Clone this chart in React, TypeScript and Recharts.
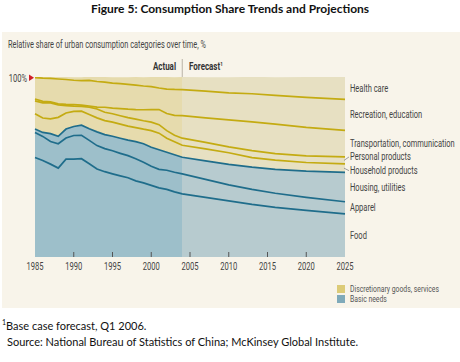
import React from 'react';
import { ComposedChart, Area, XAxis, YAxis, ReferenceLine } from 'recharts';

const years = [1985, 1986, 1987, 1988, 1989, 1990, 1991, 1992, 1993, 1994, 1995, 1996, 1997, 1998, 1999, 2000, 2001, 2002, 2003, 2004, 2007, 2010, 2013, 2016, 2020, 2025];

// shares of urban consumption, % (stacked bottom to top)
const food = [55.3, 53.6, 51.6, 49.4, 54.4, 54.4, 54.6, 51.8, 48.9, 47.4, 46.2, 45.1, 44.0, 42.3, 41.2, 39.8, 38.4, 37.6, 36.2, 35.1, 33.1, 31.2, 29.2, 27.6, 25.9, 24.0];
const apparel = [13.9, 13.4, 12.6, 13.5, 11.7, 13.1, 13.0, 13.0, 13.0, 12.8, 12.8, 12.5, 12.3, 12.3, 11.4, 10.6, 10.3, 10.6, 10.9, 11.1, 10.0, 8.9, 8.4, 7.8, 7.2, 6.7];
const housing = [1.9, 2.2, 4.3, 4.1, 5.0, 5.0, 5.6, 6.4, 7.6, 7.8, 8.1, 8.4, 8.6, 9.5, 10.3, 10.6, 10.9, 10.0, 9.7, 9.2, 10.3, 11.4, 12.3, 13.3, 14.6, 16.3];
const household = [8.5, 8.0, 8.2, 10.6, 8.9, 8.4, 7.8, 8.0, 7.8, 7.8, 7.8, 7.8, 7.8, 7.8, 8.1, 9.2, 9.2, 7.8, 7.2, 6.7, 6.7, 6.4, 5.3, 5.1, 4.8, 4.7];
const personal = [7.1, 8.4, 8.9, 6.9, 4.1, 2.9, 2.6, 4.1, 4.9, 4.6, 4.7, 4.7, 4.7, 4.7, 4.7, 4.7, 4.7, 4.2, 3.6, 3.9, 3.6, 3.3, 3.9, 3.6, 3.7, 3.9];
const transport = [1.1, 0.9, 0.6, 0.6, 0.7, 0.8, 0.8, 0.6, 1.1, 2.8, 3.1, 3.9, 4.7, 5.3, 6.1, 7.0, 8.4, 9.5, 11.1, 12.5, 13.6, 15.0, 16.0, 16.4, 15.8, 14.7];
const recreation = [11.9, 12.9, 13.0, 13.8, 13.8, 13.6, 13.6, 14.2, 14.2, 13.9, 13.9, 13.9, 13.8, 13.6, 13.2, 12.8, 12.0, 13.6, 14.4, 14.5, 14.8, 15.0, 15.6, 16.0, 16.7, 17.3];
const healthCare = [0.3, 0.6, 0.8, 1.1, 1.4, 1.7, 1.9, 2.1, 2.5, 2.9, 3.3, 3.6, 4.0, 4.5, 4.9, 5.3, 6.1, 6.7, 6.8, 7.0, 7.8, 8.6, 9.4, 10.1, 11.3, 12.5];

const xTicks = [1985, 1990, 1995, 2000, 2005, 2010, 2015, 2020, 2025];
const forecastStart = 2004;

const series = [
  { key: 'food', label: 'Food', values: food, group: 'basic' },
  { key: 'apparel', label: 'Apparel', values: apparel, group: 'basic' },
  { key: 'housing', label: 'Housing, utilities', values: housing, group: 'basic' },
  { key: 'household', label: 'Household products', values: household, group: 'disc' },
  { key: 'personal', label: 'Personal products', values: personal, group: 'disc' },
  { key: 'transport', label: 'Transportation, communication', values: transport, group: 'disc' },
  { key: 'recreation', label: 'Recreation, education', values: recreation, group: 'disc' },
  { key: 'health', label: 'Health care', values: healthCare, group: 'disc' },
];

const data = years.map((year, i) => {
  const row: Record<string, number> = { year };
  series.forEach((s) => { row[s.key] = s.values[i]; });
  return row;
});

const W = 460;
const H = 362;
const PLOT_TOP = 77;
const PLOT_BOTTOM = 257;
const PLOT_LEFT = 35;
const PLOT_RIGHT = 345;
const yPix = (v: number) => PLOT_BOTTOM - (v / 100) * (PLOT_BOTTOM - PLOT_TOP);
const cut = (forecastStart - years[0]) / (years[years.length - 1] - years[0]);

const NARROW = "Roboto, 'Liberation Sans', sans-serif";
const BODY = "Lato, 'Open Sans', sans-serif";
const YELLOW_LINE = '#c4ab12';
const TEAL_LINE = '#1f6d8b';

// condensed text, like the original's narrow grotesque
const NText = ({ x, y, anchor = 'start', size = 10, weight = 400, fill = '#444', squeeze = 0.76, children }: any) => (
  <text transform={`translate(${x} ${y}) scale(${squeeze} 1)`} textAnchor={anchor} fontSize={size}
    fontWeight={weight} fill={fill} fontFamily={NARROW}>
    {children}
  </text>
);

// right side labels, centred in their band at 2025
const last = years.length - 1;
let acc = 0;
const bandLabels = series.map((s) => {
  const lo = acc;
  acc += s.values[last];
  return { label: s.label, key: s.key, mid: yPix((lo + acc) / 2) };
});

const XTick = (props: any) => {
  const { x, y, payload } = props;
  const edge = payload.value === xTicks[0] || payload.value === xTicks[xTicks.length - 1];
  return (
    <g>
      {!edge && <line x1={x} x2={x} y1={y - 5} y2={y} stroke="#555" strokeWidth={1} />}
      <NText x={x} y={y + 12.5} anchor="middle" size={10}>{payload.value}</NText>
    </g>
  );
};

const YTick = (props: any) => {
  const { x, y } = props;
  return (
    <g>
      <polygon points={`${x - 6},${y - 2.5} ${x - 6},${y + 4} ${x - 1},${y + 0.8}`} fill="#d0202a" />
      <NText x={x - 8} y={y + 4.5} anchor="end" size={10}>100%</NText>
    </g>
  );
};

export default function App() {
  return (
    <div style={{ position: 'absolute', left: 0, top: 0, width: W, height: H, background: '#fff', overflow: 'hidden' }}>
      <div style={{ position: 'absolute', left: 0, top: 1, width: W, textAlign: 'center', fontFamily: BODY, fontWeight: 700, fontSize: 12, color: '#111' }}>
        Figure 5: Consumption Share Trends and Projections
      </div>
      <div style={{ position: 'absolute', left: 2, top: 32, width: 458, height: 276, background: '#f8f4ea' }} />

      <div style={{ position: 'absolute', left: 0, top: 0 }}>
        <ComposedChart width={W} height={H} data={data} margin={{ top: PLOT_TOP, right: W - PLOT_RIGHT, bottom: H - PLOT_BOTTOM - 20, left: 0 }}>
          <defs>
            <linearGradient id="gradDisc" x1="0" y1="0" x2="1" y2="0">
              <stop offset={cut} stopColor="#e6dbad" />
              <stop offset={cut} stopColor="#e7e0c2" />
            </linearGradient>
            <linearGradient id="gradBasic" x1="0" y1="0" x2="1" y2="0">
              <stop offset={cut} stopColor="#9dbfca" />
              <stop offset={cut} stopColor="#b7cbcf" />
            </linearGradient>
          </defs>
          <XAxis dataKey="year" type="number" domain={[1985, 2025]} ticks={xTicks} height={20}
            tickSize={0} tickMargin={0} axisLine={false} tickLine={false} tick={<XTick />} />
          <YAxis type="number" domain={[0, 100]} ticks={[100]} width={PLOT_LEFT} allowDataOverflow
            tickSize={0} tickMargin={0} axisLine={false} tickLine={false} tick={<YTick />} />
          {series.map((s) => (
            <Area key={`f-${s.key}`} dataKey={s.key} stackId="fill" type="linear" stroke="none"
              fill={s.group === 'basic' ? 'url(#gradBasic)' : 'url(#gradDisc)'} fillOpacity={1}
              isAnimationActive={false} dot={false} activeDot={false} />
          ))}
          {series.map((s, i) => (
            <Area key={`l-${s.key}`} dataKey={s.key} stackId="lines" type="linear"
              stroke={i === series.length - 1 ? 'none' : s.group === 'basic' ? TEAL_LINE : YELLOW_LINE}
              strokeWidth={1.7} fill="none" isAnimationActive={false} dot={false} activeDot={false} />
          ))}
          <ReferenceLine segment={[{ x: forecastStart, y: 100 }, { x: forecastStart, y: 110 }]}
            stroke="#b9b3a6" strokeWidth={1} ifOverflow="visible" />
        </ComposedChart>
      </div>

      <svg width={W} height={H} style={{ position: 'absolute', left: 0, top: 0, pointerEvents: 'none' }}>
        <NText x={8} y={48} size={10} squeeze={0.74}>Relative share of urban consumption categories over time, %</NText>
        <NText x={176} y={70} anchor="end" size={10.5} weight={700} fill="#333">Actual</NText>
        <NText x={189} y={70} size={10.5} weight={700} fill="#333">
          Forecast<tspan fontSize={6} dy={-4}>1</tspan>
        </NText>
        {bandLabels.map((b) => {
          const off = b.key === 'personal' ? -3.5 : b.key === 'household' ? 2.5 : 0;
          const ty = b.mid + off;
          return (
            <g key={b.key}>
              {off !== 0 && (
                <line x1={PLOT_RIGHT - 1} y1={b.mid} x2={PLOT_RIGHT + 4} y2={ty} stroke="#888" strokeWidth={0.8} />
              )}
              <NText x={PLOT_RIGHT + 5} y={ty + 3.5} size={10.3} squeeze={0.73}>{b.label}</NText>
            </g>
          );
        })}
        <rect x={337} y={285} width={8} height={8} fill="#dccb78" />
        <NText x={350} y={292} size={9} fill="#555">Discretionary goods, services</NText>
        <rect x={337} y={295} width={8} height={8} fill="#7faaba" />
        <NText x={350} y={302} size={9} fill="#555">Basic needs</NText>
      </svg>

      <div style={{ position: 'absolute', left: 2, top: 318, fontFamily: BODY, fontSize: 11, color: '#111' }}>
        <sup style={{ fontSize: 7 }}>1</sup>Base case forecast, Q1 2006.
      </div>
      <div style={{ position: 'absolute', left: 7, top: 335, fontFamily: BODY, fontSize: 11, color: '#111' }}>
        Source: National Bureau of Statistics of China; McKinsey Global Institute.
      </div>
    </div>
  );
}
